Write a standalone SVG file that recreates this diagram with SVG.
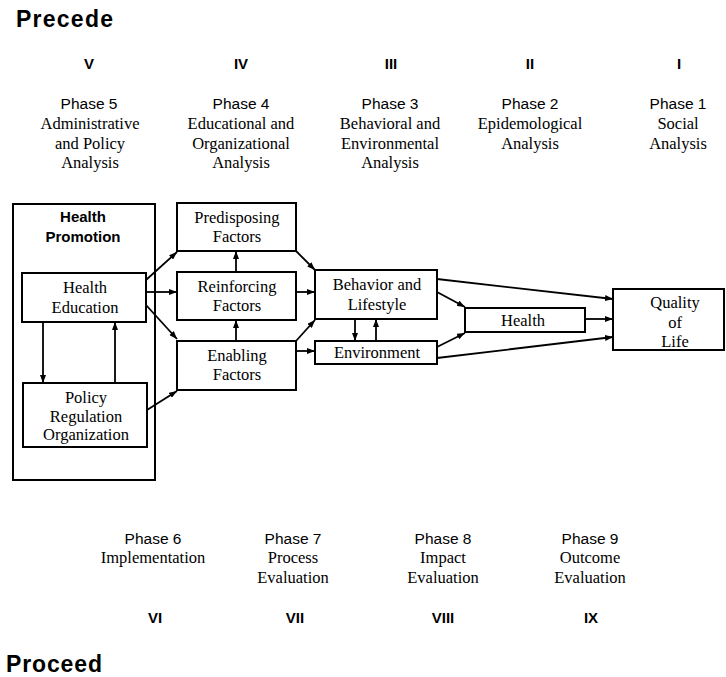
<svg xmlns="http://www.w3.org/2000/svg" width="726" height="677" viewBox="0 0 726 677">
<style>
.box{fill:#fff;stroke:#000;stroke-width:2}
.frame{fill:none;stroke:#000;stroke-width:2}
.c{stroke:#000;stroke-width:1.8;fill:none}
.t{font-family:"Liberation Serif","Times New Roman",serif;font-size:16.5px;text-anchor:middle;fill:#000}
.ph{font-family:"Liberation Sans",Arial,sans-serif;font-size:15.5px;text-anchor:middle;fill:#000}
.rn{font-family:"Liberation Sans",Arial,sans-serif;font-size:15px;font-weight:bold;text-anchor:middle;fill:#000}
.hd{font-family:"Liberation Sans",Arial,sans-serif;font-size:23px;font-weight:bold;fill:#000}
.hp{font-family:"Liberation Sans",Arial,sans-serif;font-size:15px;font-weight:bold;text-anchor:middle;fill:#000}
</style>
<defs>
<marker id="ah" markerUnits="userSpaceOnUse" markerWidth="8" markerHeight="6" refX="8" refY="3" orient="auto">
<path d="M0,0 L8,3 L0,6 z" fill="#000"/>
</marker>
</defs>
<rect width="726" height="677" fill="#fff"/>

<g id="titles">
<text class="hd" x="16" y="27" textLength="97">Precede</text>
<text class="hd" x="6" y="672" textLength="96">Proceed</text>
</g>

<g id="phases-top">
<text class="rn" x="89" y="69">V</text>
<text class="rn" x="241" y="69">IV</text>
<text class="rn" x="391" y="69">III</text>
<text class="rn" x="530" y="69">II</text>
<text class="rn" x="679" y="69">I</text>
<text class="ph" x="89" y="109">Phase 5</text>
<text class="t" x="90" y="129">Administrative</text>
<text class="t" x="90" y="148.5">and Policy</text>
<text class="t" x="90" y="168">Analysis</text>
<text class="ph" x="241" y="109">Phase 4</text>
<text class="t" x="241" y="129">Educational and</text>
<text class="t" x="241" y="148.5">Organizational</text>
<text class="t" x="241" y="168">Analysis</text>
<text class="ph" x="390" y="109">Phase 3</text>
<text class="t" x="390" y="129">Behavioral and</text>
<text class="t" x="390" y="148.5">Environmental</text>
<text class="t" x="390" y="168">Analysis</text>
<text class="ph" x="530" y="109">Phase 2</text>
<text class="t" x="530" y="129">Epidemological</text>
<text class="t" x="530" y="148.5">Analysis</text>
<text class="ph" x="678" y="109">Phase 1</text>
<text class="t" x="678" y="129">Social</text>
<text class="t" x="678" y="148.5">Analysis</text>
</g>

<g id="phases-bottom">
<text class="ph" x="153" y="544">Phase 6</text>
<text class="t" x="153" y="563">Implementation</text>
<text class="ph" x="293" y="544">Phase 7</text>
<text class="t" x="293" y="563">Process</text>
<text class="t" x="293" y="582.5">Evaluation</text>
<text class="ph" x="443" y="544">Phase 8</text>
<text class="t" x="443" y="563">Impact</text>
<text class="t" x="443" y="582.5">Evaluation</text>
<text class="ph" x="590" y="544">Phase 9</text>
<text class="t" x="590" y="563">Outcome</text>
<text class="t" x="590" y="582.5">Evaluation</text>
<text class="rn" x="155" y="623">VI</text>
<text class="rn" x="295" y="623">VII</text>
<text class="rn" x="443" y="623">VIII</text>
<text class="rn" x="591" y="623">IX</text>
</g>

<g id="health-promotion">
<rect class="frame" x="13" y="204" width="142" height="276"/>
<text class="hp" x="83" y="222">Health</text>
<text class="hp" x="83" y="242">Promotion</text>
</g>

<g id="health-education">
<rect class="box" x="22" y="273" width="124" height="49"/>
<text class="t" x="85" y="293">Health</text>
<text class="t" x="85" y="313">Education</text>
</g>

<g id="policy">
<rect class="box" x="23" y="383" width="124" height="64"/>
<text class="t" x="86" y="403">Policy</text>
<text class="t" x="86" y="421.5">Regulation</text>
<text class="t" x="86" y="440">Organization</text>
</g>

<g id="predisposing">
<rect class="box" x="177" y="203" width="119" height="48"/>
<text class="t" x="237" y="223">Predisposing</text>
<text class="t" x="237" y="242">Factors</text>
</g>

<g id="reinforcing">
<rect class="box" x="177" y="272" width="119" height="48"/>
<text class="t" x="237" y="292">Reinforcing</text>
<text class="t" x="237" y="311">Factors</text>
</g>

<g id="enabling">
<rect class="box" x="177" y="341" width="119" height="49"/>
<text class="t" x="237" y="361">Enabling</text>
<text class="t" x="237" y="380">Factors</text>
</g>

<g id="behavior">
<rect class="box" x="315" y="270" width="122" height="49"/>
<text class="t" x="377" y="290">Behavior and</text>
<text class="t" x="377" y="310">Lifestyle</text>
</g>

<g id="environment">
<rect class="box" x="315" y="341" width="122" height="23"/>
<text class="t" x="377" y="357.5">Environment</text>
</g>

<g id="health">
<rect class="box" x="465" y="308" width="120" height="24"/>
<text class="t" x="523" y="326">Health</text>
</g>

<g id="quality-of-life">
<rect class="box" x="613" y="289" width="111" height="61"/>
<text class="t" x="675" y="308">Quality</text>
<text class="t" x="675" y="327.5">of</text>
<text class="t" x="675" y="347">Life</text>
</g>

<g id="connectors" marker-end="url(#ah)">
<line class="c" x1="43" y1="322" x2="43" y2="383" marker-end="url(#ah)"/>
<line class="c" x1="115" y1="383" x2="115" y2="322" marker-end="url(#ah)"/>
<line class="c" x1="146" y1="280" x2="177" y2="252" marker-end="url(#ah)"/>
<line class="c" x1="146" y1="292" x2="177" y2="292" marker-end="url(#ah)"/>
<line class="c" x1="146" y1="305" x2="177" y2="339" marker-end="url(#ah)"/>
<line class="c" x1="147" y1="410" x2="177" y2="391" marker-end="url(#ah)"/>
<line class="c" x1="236" y1="272" x2="236" y2="251" marker-end="url(#ah)"/>
<line class="c" x1="236" y1="341" x2="236" y2="320" marker-end="url(#ah)"/>
<line class="c" x1="296" y1="251" x2="315" y2="270" marker-end="url(#ah)"/>
<line class="c" x1="296" y1="292" x2="315" y2="292" marker-end="url(#ah)"/>
<line class="c" x1="296" y1="341" x2="315" y2="320" marker-end="url(#ah)"/>
<line class="c" x1="296" y1="351" x2="315" y2="351" marker-end="url(#ah)"/>
<line class="c" x1="355" y1="319" x2="355" y2="341" marker-end="url(#ah)"/>
<line class="c" x1="376" y1="341" x2="376" y2="319" marker-end="url(#ah)"/>
<line class="c" x1="437" y1="279" x2="613" y2="299" marker-end="url(#ah)"/>
<line class="c" x1="437" y1="292" x2="465" y2="307" marker-end="url(#ah)"/>
<line class="c" x1="437" y1="347" x2="465" y2="333" marker-end="url(#ah)"/>
<line class="c" x1="437" y1="358" x2="613" y2="337" marker-end="url(#ah)"/>
<line class="c" x1="585" y1="319" x2="613" y2="319" marker-end="url(#ah)"/>
</g>
</svg>
